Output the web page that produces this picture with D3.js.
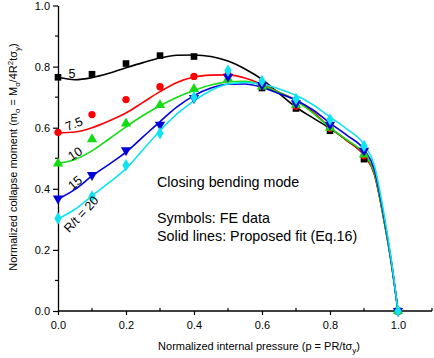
<!DOCTYPE html>
<html>
<head>
<meta charset="utf-8">
<script src="https://cdn.jsdelivr.net/npm/d3@7"></script>
<style>
  body { margin: 0; background: #fff; }
  text { font-family: "Liberation Sans", Arial, sans-serif; }
</style>
</head>
<body>
<div id="chart"></div>
<script>
// chart data
var feP = [0, 0.1, 0.2, 0.3, 0.4, 0.5, 0.6, 0.7, 0.8, 0.9, 1.0];
var feRt5 = [0.765, 0.775, 0.81, 0.836, 0.833, null, 0.73, 0.663, 0.59, 0.497, 0];
var feRt75 = [0.585, 0.643, 0.692, 0.734, 0.768, 0.772, 0.735, 0.67, 0.598, 0.508, 0];
var feRt10 = [0.483, 0.562, 0.614, 0.674, 0.727, 0.76, 0.735, 0.675, 0.6, 0.512, 0];
var feRt15 = [0.368, 0.445, 0.526, 0.61, 0.697, 0.767, 0.74, 0.68, 0.61, 0.525, 0];
var feRt20 = [0.303, 0.375, 0.477, 0.582, 0.70, 0.787, 0.753, 0.694, 0.627, 0.54, 0];

var fitP = [0, 0.05, 0.1, 0.15, 0.2, 0.25, 0.3, 0.35, 0.4, 0.45, 0.5, 0.55, 0.6, 0.65, 0.7, 0.75, 0.8, 0.85, 0.9, 0.93, 0.96, 0.98, 1.0];
var fitRt5 = [0.765, 0.757, 0.764, 0.778, 0.796, 0.813, 0.828, 0.837, 0.838, 0.833, 0.818, 0.792, 0.758, 0.712, 0.667, 0.632, 0.598, 0.558, 0.51, 0.45, 0.29, 0.16, 0];
var fitRt75 = [0.583, 0.586, 0.6, 0.622, 0.648, 0.683, 0.718, 0.748, 0.766, 0.772, 0.773, 0.763, 0.742, 0.716, 0.69, 0.652, 0.6, 0.558, 0.51, 0.45, 0.29, 0.16, 0];
var fitRt10 = [0.483, 0.496, 0.524, 0.563, 0.603, 0.64, 0.672, 0.7, 0.722, 0.74, 0.75, 0.752, 0.738, 0.715, 0.688, 0.648, 0.6, 0.56, 0.515, 0.455, 0.29, 0.16, 0];
var fitRt15 = [0.366, 0.398, 0.442, 0.48, 0.52, 0.57, 0.62, 0.668, 0.705, 0.73, 0.742, 0.743, 0.732, 0.712, 0.69, 0.658, 0.615, 0.575, 0.528, 0.465, 0.3, 0.165, 0];
var fitRt20 = [0.301, 0.333, 0.377, 0.42, 0.466, 0.528, 0.59, 0.645, 0.688, 0.722, 0.743, 0.748, 0.742, 0.727, 0.706, 0.675, 0.635, 0.595, 0.545, 0.478, 0.31, 0.17, 0];

var xTicks = [0, 0.2, 0.4, 0.6, 0.8, 1.0];
var yTicks = [0, 0.2, 0.4, 0.6, 0.8, 1.0];

var series = [
  { name: "5", color: "#000000", symbol: d3.symbolSquare, fe: feRt5, fit: fitRt5 },
  { name: "7.5", color: "#ff0000", symbol: d3.symbolCircle, fe: feRt75, fit: fitRt75 },
  { name: "10", color: "#11dd11", symbol: d3.symbolTriangle, fe: feRt10, fit: fitRt10 },
  { name: "15", color: "#0000dd", symbol: "down", fe: feRt15, fit: fitRt15 },
  { name: "20", color: "#0fe2f2", symbol: d3.symbolDiamond, fe: feRt20, fit: fitRt20 }
];

var svgWidth = 434;
var svgHeight = 358;

var svg = d3.select("#chart")
  .append("svg")
  .attr("width", svgWidth)
  .attr("height", svgHeight);

var xScale = d3.scaleLinear().domain([0, 1.1]).range([58, 432]);
var yScale = d3.scaleLinear().domain([0, 1]).range([311, 5.5]);

// axes: major ticks outward, minor ticks inward
var bottomAxis = d3.axisBottom(xScale).tickValues(xTicks)
  .tickFormat(d3.format(".1f")).tickSizeInner(4).tickSizeOuter(0).tickPadding(6);
var leftAxis = d3.axisLeft(yScale).tickValues(yTicks)
  .tickFormat(d3.format(".1f")).tickSizeInner(5).tickSizeOuter(0).tickPadding(3);

var xAxis = svg.append("g")
  .attr("transform", `translate(0, ${yScale(0)})`)
  .call(bottomAxis);

var yAxis = svg.append("g")
  .attr("transform", `translate(${xScale(0)}, 0)`)
  .call(leftAxis);

[xAxis, yAxis].forEach(function(ax) {
  ax.select(".domain").attr("stroke", "#000").attr("stroke-width", 1.3);
  ax.selectAll(".tick line").attr("stroke", "#000").attr("stroke-width", 1.2);
  ax.selectAll("text").attr("font-size", 11).attr("fill", "#000")
    .attr("font-family", "Liberation Sans, Arial, sans-serif");
});
// x axis line reaches 1.1
xAxis.select(".domain").attr("d", `M${xScale(0)},0H${xScale(1.1)}`);

// minor ticks
var xMinor = [0.1, 0.3, 0.5, 0.7, 0.9, 1.1];
var yMinor = [0.1, 0.3, 0.5, 0.7, 0.9];
svg.append("g").selectAll("line")
  .data(xMinor).enter().append("line")
  .attr("x1", d => xScale(d)).attr("x2", d => xScale(d))
  .attr("y1", yScale(0)).attr("y2", yScale(0) - 3)
  .attr("stroke", "#000").attr("stroke-width", 1.2);
svg.append("g").selectAll("line")
  .data(yMinor).enter().append("line")
  .attr("x1", xScale(0)).attr("x2", xScale(0) - 3)
  .attr("y1", d => yScale(d)).attr("y2", d => yScale(d))
  .attr("stroke", "#000").attr("stroke-width", 1.2);

// fit lines
var line = d3.line()
  .x(d => xScale(d[0]))
  .y(d => yScale(d[1]))
  .curve(d3.curveMonotoneX);

series.forEach(function(s) {
  svg.append("path")
    .datum(fitP.map((p, i) => [p, s.fit[i]]))
    .attr("fill", "none")
    .attr("stroke", s.color)
    .attr("stroke-width", 1.6)
    .attr("d", line);
});

// FE symbols
series.forEach(function(s) {
  var pts = feP.map((p, i) => [p, s.fe[i]]).filter(d => d[1] !== null);
  var isDown = s.symbol === "down";
  var sym = d3.symbol().type(isDown ? d3.symbolTriangle : s.symbol)
    .size(s.symbol === d3.symbolCircle ? 42 : (s.symbol === d3.symbolSquare ? 44 : 46));
  svg.append("g").selectAll("path")
    .data(pts).enter().append("path")
    .attr("d", sym)
    .attr("transform", d => `translate(${xScale(d[0])}, ${yScale(d[1])})` + (isDown ? " rotate(180)" : ""))
    .attr("fill", s.color);
});

// curve labels (centre of each label, in data units)
var curveLabels = [
  { text: "5", x: 0.041, y: 0.777, rot: 0 },
  { text: "7.5", x: 0.047, y: 0.613, rot: -22 },
  { text: "10", x: 0.05, y: 0.515, rot: -33 },
  { text: "15", x: 0.05, y: 0.42, rot: -40 },
  { text: "R/t = 20", x: 0.068, y: 0.317, rot: -47 }
];
svg.append("g").selectAll("text")
  .data(curveLabels).enter().append("text")
  .attr("transform", d => `translate(${xScale(d.x)}, ${yScale(d.y)}) rotate(${d.rot})`)
  .attr("text-anchor", "middle")
  .attr("dy", "0.35em")
  .attr("font-size", 12.5)
  .attr("fill", "#000")
  .text(d => d.text);

// annotation text
var notes = [
  { text: "Closing bending mode", y: 187 },
  { text: "Symbols: FE data", y: 223 },
  { text: "Solid lines: Proposed fit (Eq.16)", y: 241 }
];
svg.append("g").selectAll("text")
  .data(notes).enter().append("text")
  .attr("x", 157)
  .attr("y", d => d.y)
  .attr("font-size", 14.3)
  .attr("fill", "#000")
  .text(d => d.text);

// axis titles
var xTitle = svg.append("text")
  .attr("x", 259)
  .attr("y", 350)
  .attr("text-anchor", "middle")
  .attr("font-size", 11)
  .attr("fill", "#000");
xTitle.append("tspan").text("Normalized internal pressure (p = PR/tσ");
xTitle.append("tspan").attr("font-size", 8).attr("dy", 3).text("y");
xTitle.append("tspan").attr("dy", -3).text(")");

var yTitle = svg.append("text")
  .attr("transform", "translate(17, 157) rotate(-90)")
  .attr("text-anchor", "middle")
  .attr("font-size", 11)
  .attr("fill", "#000");
yTitle.append("tspan").text("Normalized collapse moment (m");
yTitle.append("tspan").attr("font-size", 8).attr("dy", 3).text("o");
yTitle.append("tspan").attr("dy", -3).text(" = M");
yTitle.append("tspan").attr("font-size", 8).attr("dy", 3).text("o");
yTitle.append("tspan").attr("dy", -3).text("/4R");
yTitle.append("tspan").attr("font-size", 8).attr("dy", -4).text("2");
yTitle.append("tspan").attr("dy", 4).text("tσ");
yTitle.append("tspan").attr("font-size", 8).attr("dy", 3).text("y");
yTitle.append("tspan").attr("dy", -3).text(")");
</script>
</body>
</html>
